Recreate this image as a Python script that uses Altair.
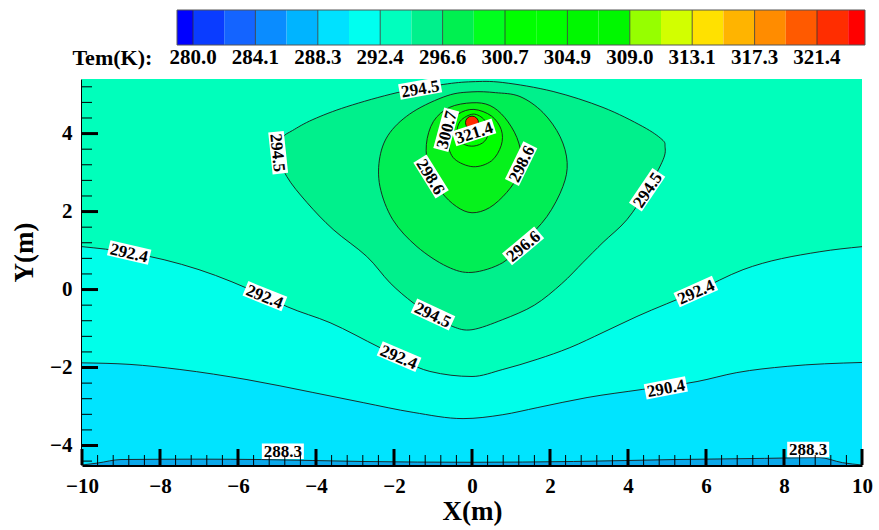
import altair as alt
import pandas as pd

FONT = "Liberation Serif"
LINE = "#1a1a1a"

# ---------------- axes ----------------
X_DOMAIN = [-10, 10]
Y_DOMAIN = [-4.5, 5.4]
X_MAJOR = [-10, -8, -6, -4, -2, 0, 2, 4, 6, 8, 10]
Y_MAJOR = [-4, -2, 0, 2, 4]
X_MINOR = [round(a + d, 2) for a in X_MAJOR[:-1] for d in (0.4, 0.8, 1.2, 1.6)]
Y_MINOR = [-4.4, -3.6, -3.2, -2.8, -2.4, -1.6, -1.2, -0.8, -0.4, 0.4, 0.8, 1.2,
           1.6, 2.4, 2.8, 3.2, 3.6, 4.4, 4.8, 5.2]

# ---------------- colour bar ----------------
CB_DOMAIN = [272.635, 324.585]
BAR_EDGES = [278.94, 280.0, 282.07, 284.14, 286.21, 288.28, 290.35, 292.42, 294.49,
             296.56, 298.63, 300.70, 302.77, 304.84, 306.91, 308.98, 311.05, 313.12,
             315.19, 317.26, 319.33, 321.40, 323.47, 324.585]
BAR_COLORS = ["#0000ff", "#0a3cff", "#1464ff", "#0a8cff", "#00b4ff", "#00e1ff",
              "#00fff0", "#00ffbe", "#00f08c", "#00f050", "#00ff1e", "#00ff00",
              "#00ff00", "#00f800", "#00f800", "#96ff00", "#d2ff00", "#ffe100",
              "#ffb400", "#ff8c00", "#ff5a00", "#ff2d00", "#ff0000"]
CB_LABEL_LEVELS = [280.0, 284.14, 288.28, 292.42, 296.56, 300.70, 304.84, 308.98,
                   313.12, 317.26, 321.40]
CB_LABELS = ["280.0", "284.1", "288.3", "292.4", "296.6", "300.7", "304.9", "309.0",
             "313.1", "317.3", "321.4"]
CB_TITLE = ["Tem(K):"]
CB_TITLE_POS = [277.3]

# ---------------- band fills in the plot ----------------
FILL_BELOW_288 = "#0aa8ea"
FILL_288_290 = "#00e4ff"
FILL_290_292 = "#00ffea"
FILL_292_294 = "#00ffbb"
FILL_294_296 = "#00f08c"
FILL_296_298 = "#00ee55"
FILL_298_300 = "#06f21c"
FILL_300_UP = "#00ff00"
HOT_COLOR = "#ff2a00"

# ---------------- open contour lines ----------------
C288_X = [-10, -9.6, -9.0, -7.0, -5.4, -2.8, 0.0, 2.6, 5.2, 7.5, 8.9, 9.5, 10]
C288_Y = [-4.5, -4.45, -4.36, -4.35, -4.36, -4.41, -4.43, -4.41, -4.36, -4.33, -4.31, -4.44, -4.5]

C290_X = [-10, -8.77, -7.49, -5.77, -4.08, -2.79, -1.51, -0.23, 0.79, 1.67, 2.95, 4.38, 5.77, 6.79, 8.08, 10]
C290_Y = [-1.88, -1.92, -2.05, -2.31, -2.64, -2.9, -3.15, -3.31, -3.21, -3.03, -2.77, -2.56, -2.36, -2.13, -1.97, -1.87]

C292_X = [-10, -8.79, -7.0, -5.31, -4.74, -3.64, -2.36, -1.08, 0.0, 0.79, 1.67, 2.51, 3.36, 4.23, 5.74, 6.95, 8.92, 10]
C292_Y = [1.10, 0.95, 0.51, -0.17, -0.44, -0.85, -1.49, -2.1, -2.23, -2.05, -1.79, -1.49, -1.10, -0.69, -0.05, 0.51, 0.97, 1.10]

# ---------------- closed contour lines ----------------
C294_X = [0.0, -0.74, -1.92, -3.21, -4.08, -4.6, -4.85, -4.97, -4.75, -4.23, -3.56, -2.7, -2.1,
          -1.51, -1.0, -0.49, 0.0, 0.79, 1.6, 2.3, 2.85, 3.36, 3.97, 4.49, 4.9, 4.95, 4.87, 4.38,
          3.36, 2.08, 0.79]
C294_Y = [5.33, 5.26, 5.05, 4.69, 4.36, 4.08, 3.9, 3.5, 2.9, 2.23, 1.54, 0.85, 0.17,
          -0.34, -0.66, -0.95, -1.03, -0.77, -0.4, 0.15, 0.7, 1.21, 1.79, 2.56, 3.33, 3.67, 3.85, 4.18,
          4.67, 5.08, 5.31]

C296_X = [0.0, -0.64, -1.51, -2.1, -2.36, -2.36, -2.03, -1.41, -0.64, 0.0, 0.79, 1.31, 1.92,
          2.33, 2.44, 2.26, 1.82, 1.23, 0.6]
C296_Y = [5.07, 4.97, 4.56, 4.03, 3.41, 2.64, 1.79, 1.10, 0.59, 0.44, 0.69, 1.2, 1.87,
          2.64, 3.26, 3.92, 4.54, 4.95, 5.05]

C298_X = [0.0, -0.58, -0.99, -1.17, -1.1, -0.79, -0.4, 0.0, 0.45, 0.89, 1.2, 1.28, 1.15, 0.84, 0.46]
C298_Y = [4.79, 4.67, 4.31, 3.72, 3.08, 2.51, 2.13, 1.97, 2.1, 2.49, 2.95, 3.33, 3.9, 4.41, 4.72]

C300_X = [0.05, -0.35, -0.6, -0.62, -0.45, 0.03, 0.5, 0.75, 0.75, 0.5]
C300_Y = [4.62, 4.5, 4.15, 3.75, 3.35, 3.15, 3.3, 3.7, 4.1, 4.45]

C302_X = [0.03, -0.3, -0.38, -0.22, 0.05, 0.32, 0.42, 0.32]
C302_Y = [4.5, 4.32, 4.0, 3.74, 3.68, 3.8, 4.06, 4.35]

HOT_X = [0.0]
HOT_Y = [4.28]

# ---------------- contour labels ----------------
LABEL_TEXT = ["294.5", "294.5", "300.7", "321.4", "298.6", "298.6", "296.6", "294.5",
              "292.4", "292.4", "294.5", "292.4", "292.4", "290.4", "288.3", "288.3"]
LABEL_X = [-1.33, -4.97, -0.66, 0.05, -1.05, 1.26, 1.31, 4.49,
           -8.79, -5.31, -1.0, -1.87, 5.74, 4.97, -4.85, 8.62]
LABEL_Y = [5.16, 3.51, 4.1, 4.03, 2.9, 3.23, 1.12, 2.56,
           0.95, -0.17, -0.64, -1.72, -0.05, -2.52, -4.15, -4.10]
LABEL_ANGLE = [350, 84, 285, 342, 58, 296, 320, 304,
               13, 22, 25, 23, 336, 349, 0, 0]

# ======================================================================
W, H = 780, 386
xs = alt.Scale(domain=X_DOMAIN, nice=False, zero=False)
ys = alt.Scale(domain=Y_DOMAIN, nice=False, zero=False)

x_axis = alt.Axis(values=X_MAJOR, format="d", title="X(m)", grid=False, ticks=False,
                  domainColor="black", domainWidth=3, labelFont=FONT, labelFontSize=21,
                  labelFontWeight="bold", labelColor="black", labelPadding=10,
                  titleFont=FONT, titleFontSize=27, titleFontWeight="bold",
                  titleColor="black", titlePadding=2, labelFlush=False)
y_axis = alt.Axis(values=Y_MAJOR, format="d", title="Y(m)", grid=False, ticks=False,
                  domainColor="black", domainWidth=3, labelFont=FONT, labelFontSize=21,
                  labelFontWeight="bold", labelColor="black", labelPadding=10,
                  titleFont=FONT, titleFontSize=27, titleFontWeight="bold",
                  titleColor="black", titlePadding=11, titleY=173, labelFlush=False)


def X(field="x"):
    return alt.X(f"{field}:Q", scale=xs, axis=x_axis, title="X(m)")


def Y(field="y"):
    return alt.Y(f"{field}:Q", scale=ys, axis=y_axis, title="Y(m)")


bg_df = pd.DataFrame({"x": [X_DOMAIN[0]], "x2": [X_DOMAIN[1]],
                      "y": [Y_DOMAIN[0]], "y2": [Y_DOMAIN[1]]})
bg = alt.Chart(bg_df).mark_rect(color=FILL_292_294).encode(
    x=X(), x2="x2:Q", y=Y(), y2="y2:Q")


def band(xv, yv, color):
    df = pd.DataFrame({"x": xv, "y": yv})
    return alt.Chart(df).mark_area(color=color, interpolate="monotone", clip=True).encode(
        x=X(), y=Y(), y2=alt.datum(Y_DOMAIN[0]))


def open_line(xv, yv):
    df = pd.DataFrame({"x": xv, "y": yv})
    return alt.Chart(df).mark_line(color=LINE, strokeWidth=0.9, interpolate="monotone",
                                   clip=True).encode(x=X(), y=Y())


def closed(xv, yv, fill=None):
    df = pd.DataFrame({"x": xv, "y": yv, "i": list(range(len(xv)))})
    kw = dict(interpolate="cardinal-closed", stroke=LINE, strokeWidth=0.9, clip=True)
    if fill is not None:
        kw["fill"] = fill
    return alt.Chart(df).mark_line(**kw).encode(x=X(), y=Y(), order=alt.Order("i:Q"))


layers = [
    bg,
    band(C292_X, C292_Y, FILL_290_292),
    band(C290_X, C290_Y, FILL_288_290),
    band(C288_X, C288_Y, FILL_BELOW_288),
    open_line(C292_X, C292_Y),
    open_line(C290_X, C290_Y),
    open_line(C288_X, C288_Y),
    closed(C294_X, C294_Y, FILL_294_296),
    closed(C296_X, C296_Y, FILL_296_298),
    closed(C298_X, C298_Y, FILL_298_300),
    closed(C300_X, C300_Y, FILL_300_UP),
    closed(C302_X, C302_Y),
]

hot = alt.Chart(pd.DataFrame({"x": HOT_X, "y": HOT_Y})).mark_point(
    shape="circle", filled=True, fill=HOT_COLOR, stroke="black", strokeWidth=0.8,
    opacity=1, size=170).encode(x=X(), y=Y())
layers.append(hot)

lab_df = pd.DataFrame({"t": LABEL_TEXT, "x": LABEL_X, "y": LABEL_Y, "a": LABEL_ANGLE})
boxes = alt.Chart(lab_df).mark_point(
    shape="M-1,-0.37L1,-0.37L1,0.37L-1,0.37Z", filled=True, fill="white", opacity=1,
    strokeWidth=0, size=1764).encode(x=X(), y=Y(), angle=alt.Angle("a:Q", scale=None))
texts = alt.Chart(lab_df).mark_text(
    font=FONT, fontSize=17, fontWeight="bold", color="black", align="center",
    baseline="middle", dy=1).encode(x=X(), y=Y(), text="t:N",
                                   angle=alt.Angle("a:Q", scale=None))
layers += [boxes, texts]

# inward ticks
xmaj = alt.Chart(pd.DataFrame({"x": X_MAJOR})).mark_rule(color="black", strokeWidth=3).encode(
    x=X(), y=alt.value(H), y2=alt.value(H - 16))
xmin = alt.Chart(pd.DataFrame({"x": X_MINOR})).mark_rule(color="black", strokeWidth=1).encode(
    x=X(), y=alt.value(H), y2=alt.value(H - 10))
ymaj = alt.Chart(pd.DataFrame({"y": Y_MAJOR})).mark_rule(color="black", strokeWidth=3).encode(
    y=Y(), x=alt.value(0), x2=alt.value(16))
ymin = alt.Chart(pd.DataFrame({"y": Y_MINOR})).mark_rule(color="black", strokeWidth=1).encode(
    y=Y(), x=alt.value(0), x2=alt.value(10))
layers += [xmin, ymin, xmaj, ymaj]

main = alt.layer(*layers).properties(width=W, height=H)

# ---------------- colour bar chart ----------------
cbs = alt.Scale(domain=CB_DOMAIN, nice=False, zero=False)
bar_df = pd.DataFrame({"lo": BAR_EDGES[:-1], "hi": BAR_EDGES[1:], "c": BAR_COLORS})
bar = alt.Chart(bar_df).mark_rect().encode(
    x=alt.X("lo:Q", scale=cbs, axis=None), x2="hi:Q",
    y=alt.value(0), y2=alt.value(35), color=alt.Color("c:N", scale=None))
seps = alt.Chart(pd.DataFrame({"lo": CB_LABEL_LEVELS})).mark_rule(
    color="#333333", strokeWidth=0.8).encode(
    x=alt.X("lo:Q", scale=cbs, axis=None), y=alt.value(0), y2=alt.value(35))
frame = alt.Chart(pd.DataFrame({"lo": [BAR_EDGES[0]], "hi": [BAR_EDGES[-1]]})).mark_rect(
    filled=False, stroke="#555555", strokeWidth=1).encode(
    x=alt.X("lo:Q", scale=cbs, axis=None), x2="hi:Q", y=alt.value(0), y2=alt.value(35))
cb_text = alt.Chart(pd.DataFrame({"lo": CB_LABEL_LEVELS, "t": CB_LABELS})).mark_text(
    font=FONT, fontSize=21, fontWeight="bold", color="black", baseline="middle").encode(
    x=alt.X("lo:Q", scale=cbs, axis=None), y=alt.value(48), text="t:N")
cb_title = alt.Chart(pd.DataFrame({"lo": CB_TITLE_POS, "t": CB_TITLE})).mark_text(
    font=FONT, fontSize=22, fontWeight="bold", color="black", baseline="middle",
    align="right").encode(x=alt.X("lo:Q", scale=cbs, axis=None), y=alt.value(48), text="t:N")
cbar = alt.layer(bar, seps, frame, cb_text, cb_title).properties(width=783, height=62)

chart = alt.vconcat(cbar, main, spacing=5).properties(
    padding={"left": 10, "top": 9, "right": 5, "bottom": 5},
    background="white").configure_view(strokeWidth=0)

chart.save("out.html", embed_options={"renderer": "svg", "actions": False})
